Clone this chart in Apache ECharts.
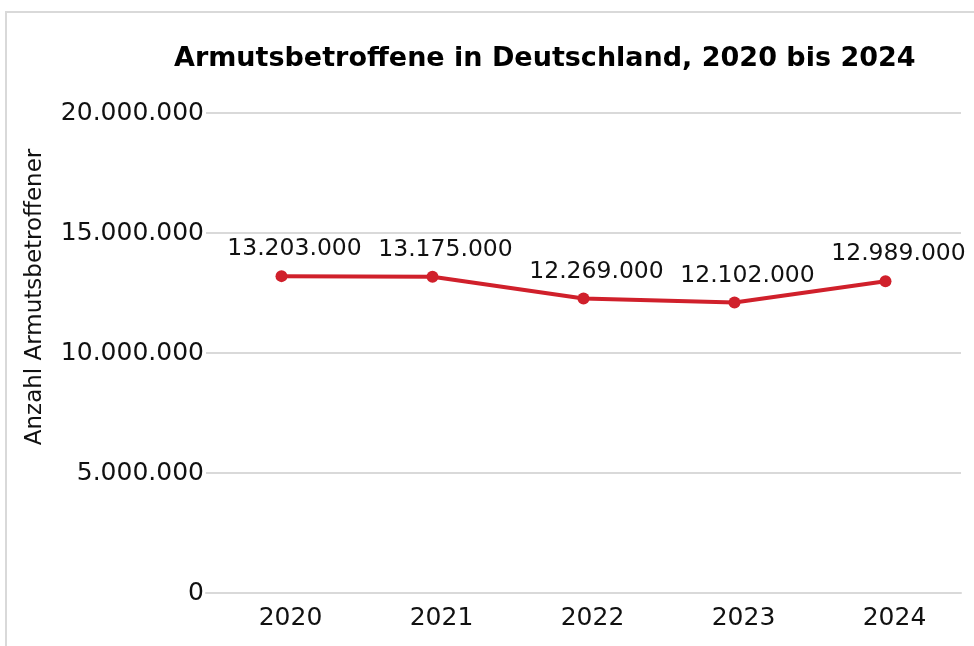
<!DOCTYPE html>
<html>
<head>
<meta charset="utf-8">
<script src="https://cdn.jsdelivr.net/npm/echarts@6/dist/echarts.min.js"></script>
<style>
  html, body { margin: 0; padding: 0; background: #fff; }
  #frame {
    position: absolute; left: 5px; top: 11px; width: 1000px; height: 700px;
    border: 2px solid #d9d9d9; box-sizing: border-box;
  }
  #chart { position: absolute; left: 0; top: 0; width: 974px; height: 646px; }
</style>
</head>
<body>
<div id="frame"></div>
<div id="chart"></div>
<script>
const years = ["2020", "2021", "2022", "2023", "2024"]
const armutsbetroffene = [13203000, 13175000, 12269000, 12102000, 12989000]
const yTicks = [0, 5000000, 10000000, 15000000, 20000000]
const yName = "Anzahl Armutsbetroffener"

const fmt = v => String(v).replace(/\B(?=(\d{3})+(?!\d))/g, ".")

const chart = echarts.init(document.getElementById("chart"), null, { renderer: "canvas" })

chart.setOption({
  animation: false,
  textStyle: { fontFamily: "DejaVu Sans" },
  title: {
    text: "Armutsbetroffene in Deutschland, 2020 bis 2024",
    left: 169,
    top: 40,
    textStyle: { fontFamily: "DejaVu Sans", fontWeight: "bold", fontSize: 27, color: "#000" }
  },
  // axis name sits above the plot's middle in the original, so it is placed by hand
  graphic: [
    {
      type: "text",
      x: 35,
      y: 297,
      rotation: Math.PI / 2,
      style: {
        text: yName,
        font: "23px 'DejaVu Sans'",
        fill: "#111",
        align: "center",
        verticalAlign: "middle"
      }
    }
  ],
  grid: { left: 206, right: 13, top: 113, bottom: 53 },
  xAxis: {
    type: "category",
    data: years,
    boundaryGap: true,
    axisLine: { show: true, lineStyle: { color: "#d9d9d9", width: 2 } },
    axisTick: { show: false },
    axisLabel: { color: "#111", fontSize: 25, margin: 13, padding: [0, 0, 0, 18] }
  },
  yAxis: {
    type: "value",
    min: yTicks[0],
    max: yTicks[yTicks.length - 1],
    interval: yTicks[1] - yTicks[0],
    axisLine: { show: false },
    axisTick: { show: false },
    splitLine: { lineStyle: { color: "#d9d9d9", width: 2 } },
    axisLabel: { color: "#111", fontSize: 25, margin: 2, formatter: v => fmt(v) }
  },
  series: [
    {
      name: "Armutsbetroffene",
      type: "line",
      data: armutsbetroffene,
      symbol: "circle",
      symbolSize: 12,
      itemStyle: { color: "#d0202b" },
      lineStyle: { color: "#d0202b", width: 4 },
      label: {
        show: true,
        position: "top",
        distance: 9,
        offset: [13, 0],
        color: "#111",
        fontSize: 23.5,
        formatter: p => fmt(p.value)
      }
    }
  ]
})
</script>
</body>
</html>
